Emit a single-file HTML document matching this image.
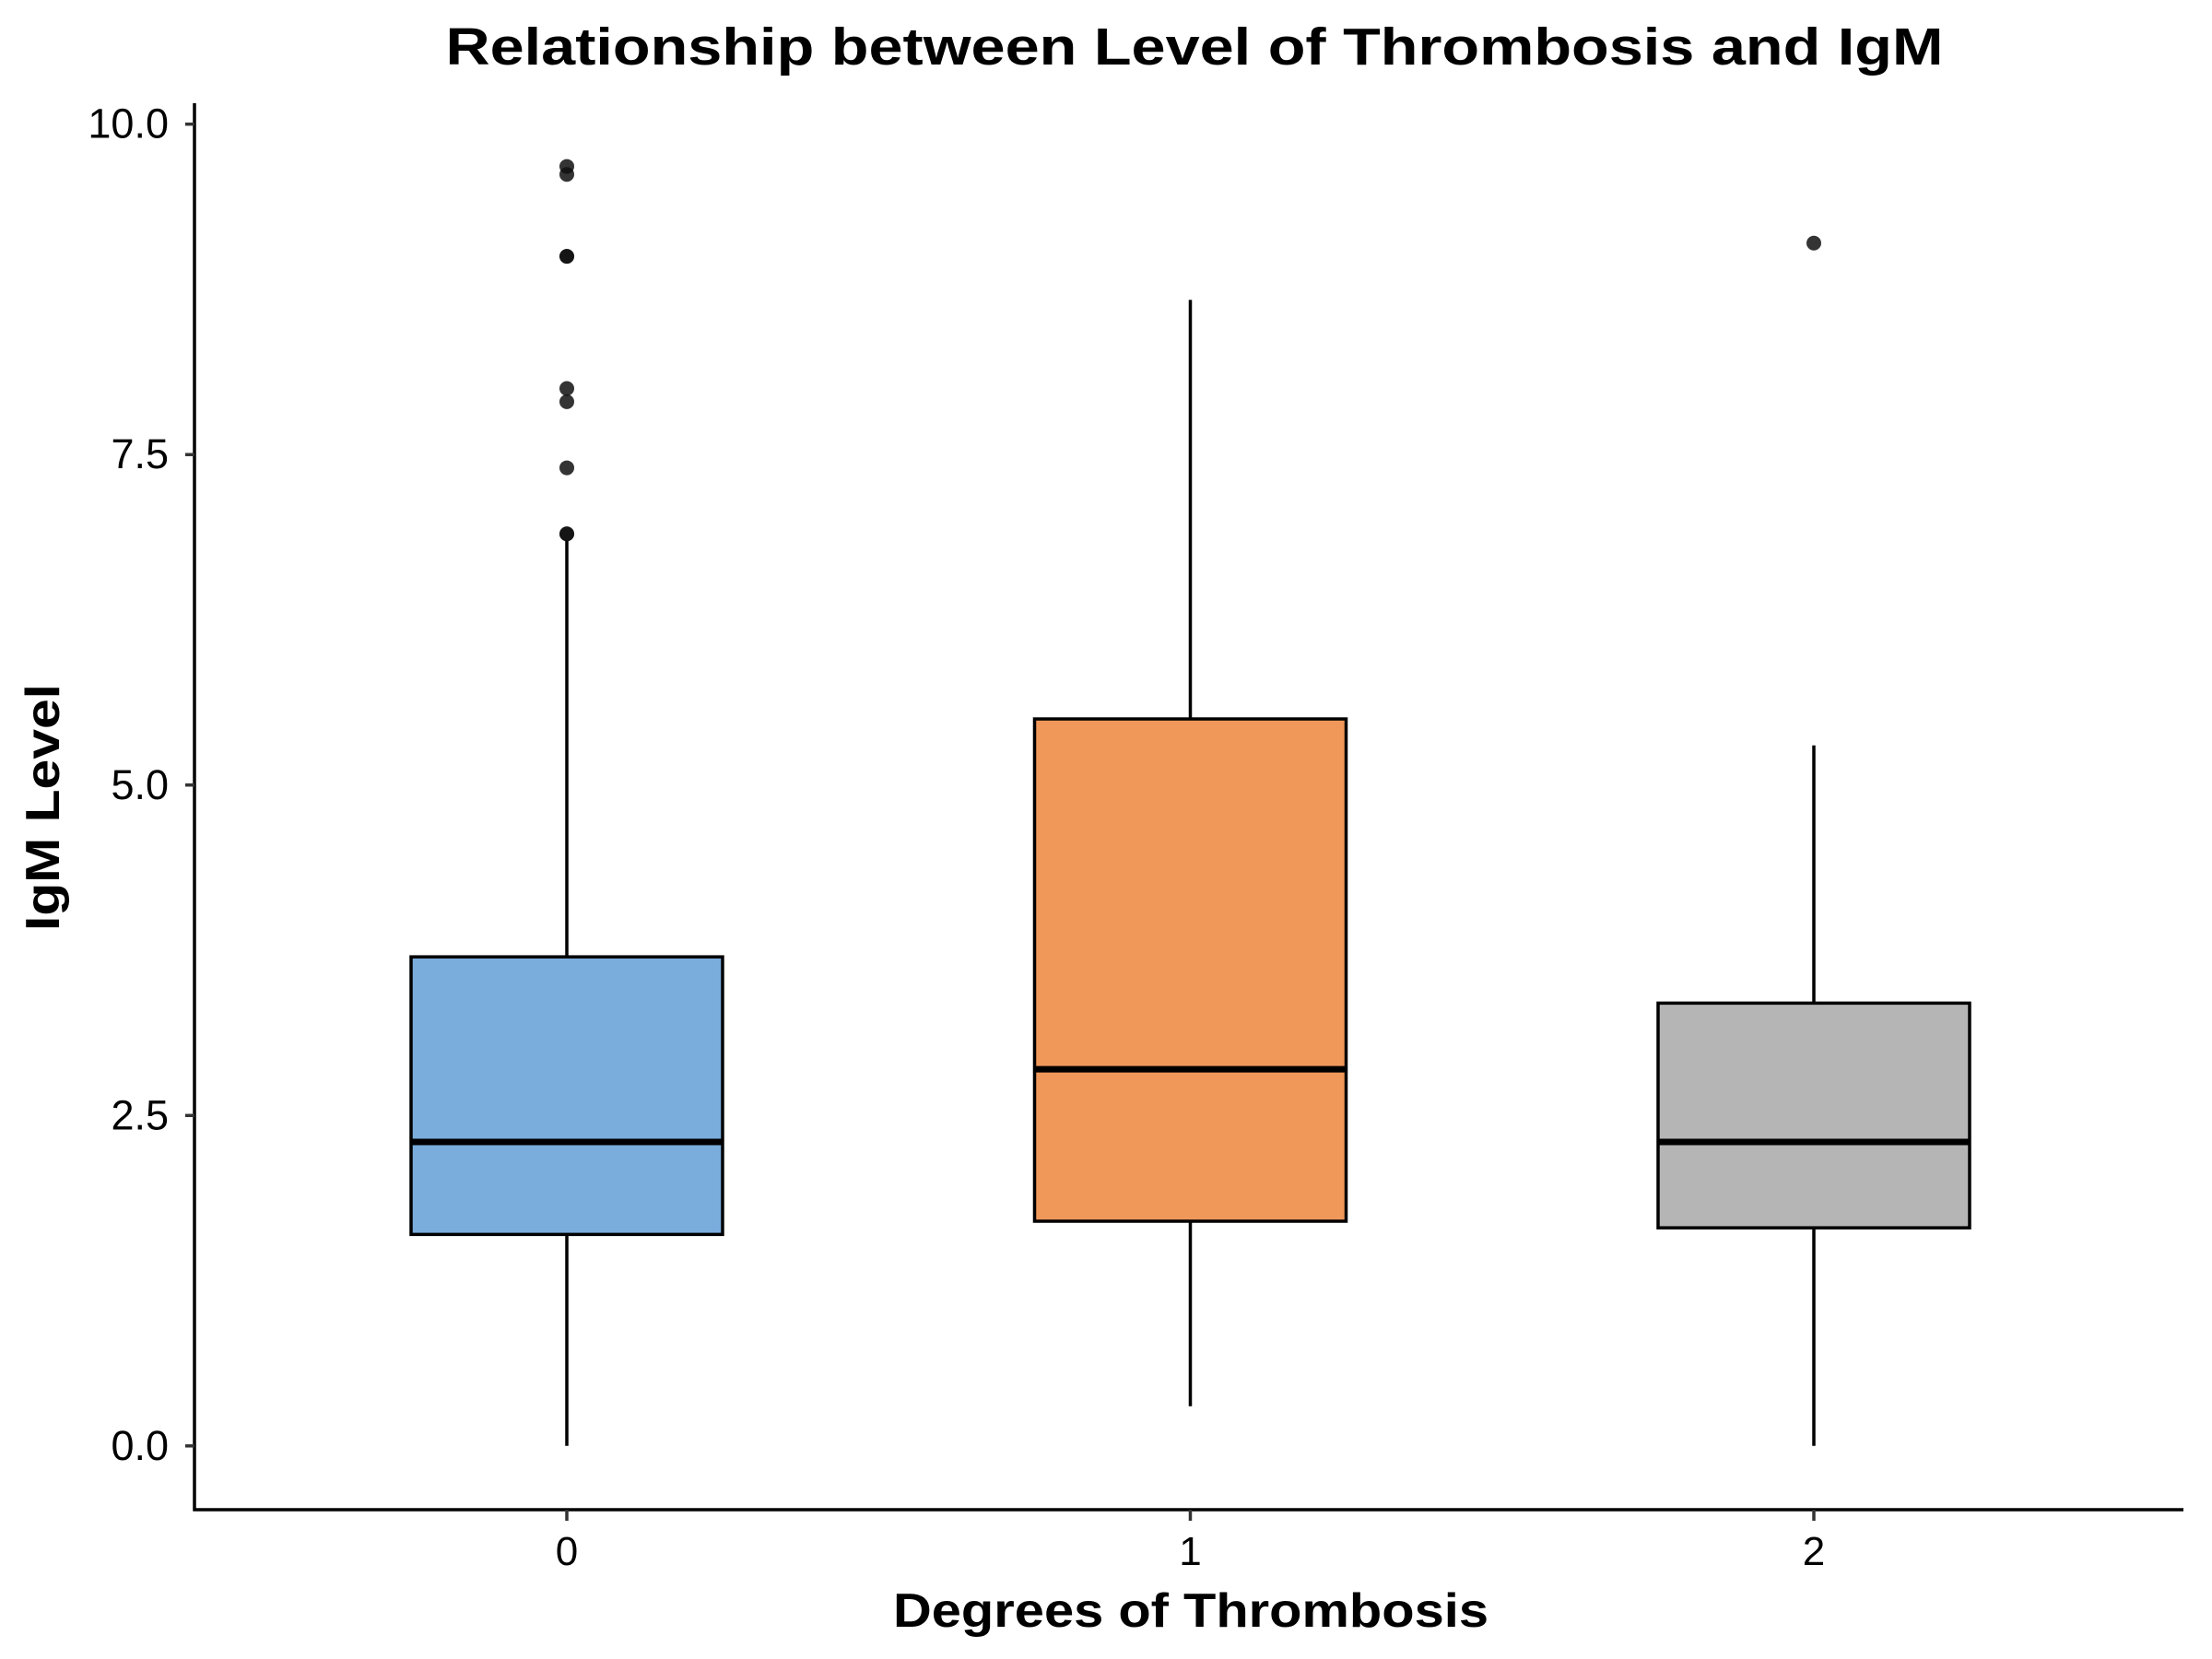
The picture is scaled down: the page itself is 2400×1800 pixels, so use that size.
<!DOCTYPE html>
<html><head><meta charset="utf-8"><style>
html,body{margin:0;padding:0;background:#fff;}
svg{display:block;font-family:"Liberation Sans",Arial,sans-serif;}
</style></head><body>
<svg id="chart" width="2400" height="1800" viewBox="0 0 2400 1800" xmlns="http://www.w3.org/2000/svg">
<text x="1296" y="70" text-anchor="middle" font-size="57" font-weight="bold" textLength="1625" lengthAdjust="spacingAndGlyphs">Relationship between Level of Thrombosis and IgM</text>
<text x="1292" y="1765" text-anchor="middle" font-size="52" font-weight="bold" textLength="646" lengthAdjust="spacingAndGlyphs">Degrees of Thrombosis</text>
<text x="0" y="0" transform="translate(64,876) rotate(-90)" text-anchor="middle" font-size="52" font-weight="bold" textLength="268" lengthAdjust="spacingAndGlyphs">IgM Level</text>
<g id="plot"></g>
</svg>
<script>
const categories = ["0","1","2"];
const whiskerLow = [0, 0.3, 0];
const q1 = [1.6, 1.7, 1.65];
const medians = [2.3, 2.85, 2.3];
const q3 = [3.7, 5.5, 3.35];
const whiskerHigh = [6.85, 8.67, 5.3];
const outliers0 = [6.9, 6.9, 7.4, 7.9, 8.0, 9.0, 9.0, 9.62, 9.68];
const outliers1 = [];
const outliers2 = [9.1];
const yTicks = [0, 2.5, 5.0, 7.5, 10.0];
const yTickLabels = ["0.0","2.5","5.0","7.5","10.0"];
const fills = ["#7aaddc","#f0985a","#b5b5b5"];

const NS="http://www.w3.org/2000/svg";
const g=document.getElementById('plot');
const axL=211, axR=2369, axB=1638, axT=112;
function y(v){return 1568.8-(v/10)*(1568.8-134.7);}
function x(i){return 615+i*676.5;}
const hw=169;
function el(t,a,p){const e=document.createElementNS(NS,t);for(const k in a)e.setAttribute(k,a[k]);(p||g).appendChild(e);return e;}

let e=el('line',{x1:axL,y1:axT,x2:axL,y2:axB+1.5,stroke:'#000','stroke-width':3.5});


e=el('line',{x1:axL-1.5,y1:axB,x2:axR,y2:axB,stroke:'#000','stroke-width':3.5});



yTicks.forEach((v,i)=>{
  let t=el('line',{x1:axL-10,y1:y(v),x2:axL,y2:y(v),stroke:'#333','stroke-width':3.5});
  
  
  let l=el('text',{x:axL-28,y:y(v)+15,'text-anchor':'end','font-size':45,fill:'#000'});
  l.textContent=yTickLabels[i];
  
  
});

const outs=[outliers0,outliers1,outliers2];
categories.forEach((c,i)=>{
  const cx=x(i);
  let t=el('line',{x1:cx,y1:axB,x2:cx,y2:axB+12,stroke:'#333','stroke-width':3.5});
  
  
  let l=el('text',{x:cx,y:axB+60,'text-anchor':'middle','font-size':44});
  l.textContent=c;
  
  
  let w=el('line',{x1:cx,y1:y(q3[i]),x2:cx,y2:y(whiskerHigh[i]),stroke:'#000','stroke-width':3.5});
  
  
  w=el('line',{x1:cx,y1:y(q1[i]),x2:cx,y2:y(whiskerLow[i]),stroke:'#000','stroke-width':3.5});
  
  
  let b=el('rect',{x:cx-hw,y:y(q3[i]),width:2*hw,height:y(q1[i])-y(q3[i]),fill:fills[i],stroke:'#000','stroke-width':3.5});
  
  
  let m=el('line',{x1:cx-hw,y1:y(medians[i]),x2:cx+hw,y2:y(medians[i]),stroke:'#000','stroke-width':7});
  
  
  outs[i].forEach(v=>{
    let o=el('circle',{cx:cx,cy:y(v),r:8,fill:'#111','fill-opacity':0.85});
    
    
  });
});
</script>
</body></html>
